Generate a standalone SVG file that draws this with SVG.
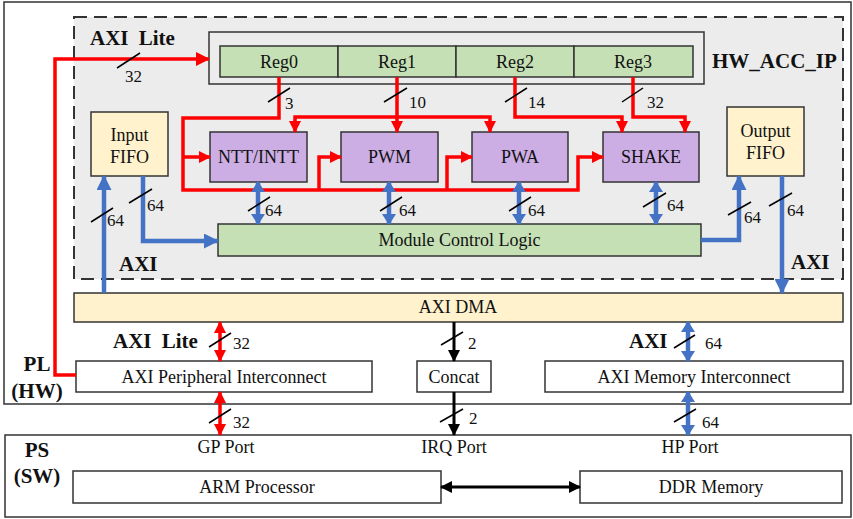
<svg xmlns="http://www.w3.org/2000/svg" width="853" height="519" viewBox="0 0 853 519">
<style>
text{font-family:"Liberation Serif","Times New Roman",serif;font-size:18px;fill:#111}
.c{text-anchor:middle}
.bd{font-weight:bold;font-size:21px}
.n{font-size:17px}
.box{stroke:#333;stroke-width:1.5}
.reg{fill:#c5e0b4}
.mod{fill:#cdaee4}
.fifo{fill:#fff2cc}
.wht{fill:#fff}
.r{fill:none;stroke:#ff0000;stroke-width:3.5}
.b{fill:none;stroke:#4472c4;stroke-width:4.5}
.k{fill:none;stroke:#000;stroke-width:3}
.s{stroke:#000;stroke-width:1.5}
</style>
<defs>
<marker id="mr" markerUnits="userSpaceOnUse" viewBox="0 0 12 12" markerWidth="12" markerHeight="12" refX="11" refY="6" orient="auto-start-reverse"><path d="M0,0 L12,6 L0,12 z" fill="#ff0000"/></marker>
<marker id="mrl" markerUnits="userSpaceOnUse" viewBox="0 0 14 14" markerWidth="14" markerHeight="14" refX="13" refY="7" orient="auto-start-reverse"><path d="M0,0 L14,7 L0,14 z" fill="#ff0000"/></marker>
<marker id="mb" markerUnits="userSpaceOnUse" viewBox="0 0 15 15" markerWidth="15" markerHeight="15" refX="14" refY="7.5" orient="auto-start-reverse"><path d="M0,0 L15,7.5 L0,15 z" fill="#4472c4"/></marker>
<marker id="mbd" markerUnits="userSpaceOnUse" viewBox="0 0 11 14" markerWidth="11" markerHeight="14" refX="10" refY="7" orient="auto-start-reverse"><path d="M0,0 L11,7 L0,14 z" fill="#4472c4"/></marker>
<marker id="mk" markerUnits="userSpaceOnUse" viewBox="0 0 12 12" markerWidth="12" markerHeight="12" refX="11" refY="6" orient="auto-start-reverse"><path d="M0,0 L12,6 L0,12 z" fill="#000"/></marker>
</defs>
<rect width="853" height="519" fill="#fff"/>
<!-- PL and PS regions -->
<g id="pl-region"><rect x="4" y="2" width="847" height="402" fill="#fff" stroke="#333" stroke-width="1.5"/>
<text class="bd c" x="37" y="371">PL</text><text class="bd c" x="37" y="398">(HW)</text></g>
<g id="ps-region"><rect x="5" y="435" width="846" height="82" fill="#fff" stroke="#333" stroke-width="1.5"/>
<text class="bd c" x="37" y="457">PS</text><text class="bd c" x="37" y="483">(SW)</text></g>
<g id="hw-acc-ip"><rect x="74" y="17" width="769" height="262" fill="#ececec" stroke="#333" stroke-width="2" stroke-dasharray="13,7"/>
<text class="bd" x="90" y="45" word-spacing="5">AXI Lite</text>
<text class="bd" x="712" y="68">HW_ACC_IP</text>
<text class="bd" x="119" y="271">AXI</text>
<text class="bd" x="791" y="269">AXI</text></g>
<g id="registers"><rect class="box" x="209" y="32" width="495" height="52" fill="#ececec"/>
<g id="reg0"><rect class="box reg" x="220" y="46" width="118" height="31"/><text class="c" x="279" y="68">Reg0</text></g>
<g id="reg1"><rect class="box reg" x="338" y="46" width="118" height="31"/><text class="c" x="397" y="68">Reg1</text></g>
<g id="reg2"><rect class="box reg" x="456" y="46" width="118" height="31"/><text class="c" x="515" y="68">Reg2</text></g>
<g id="reg3"><rect class="box reg" x="574" y="46" width="119" height="31"/><text class="c" x="633" y="68">Reg3</text></g></g>
<g id="input-fifo"><rect class="box fifo" x="91" y="112" width="77" height="64"/><text class="c" x="129.5" y="141">Input</text><text class="c" x="129.5" y="163">FIFO</text></g>
<g id="output-fifo"><rect class="box fifo" x="727" y="107" width="77" height="69"/><text class="c" x="765.5" y="137">Output</text><text class="c" x="765.5" y="159">FIFO</text></g>
<g id="ntt"><rect class="box mod" x="210" y="132" width="97" height="50"/><text class="c" x="258.5" y="163">NTT/INTT</text></g>
<g id="pwm"><rect class="box mod" x="341" y="132" width="97" height="50"/><text class="c" x="389.5" y="163">PWM</text></g>
<g id="pwa"><rect class="box mod" x="472" y="132" width="96" height="50"/><text class="c" x="520" y="163">PWA</text></g>
<g id="shake"><rect class="box mod" x="603" y="132" width="96" height="50"/><text class="c" x="651" y="163">SHAKE</text></g>
<g id="mcl"><rect class="box reg" x="218" y="224" width="483" height="32"/><text class="c" x="459.5" y="246">Module Control Logic</text></g>
<g id="axi-dma"><rect class="box fifo" x="74" y="293" width="769" height="29"/><text class="c" x="458" y="313">AXI DMA</text></g>
<g id="axi-periph"><rect class="box wht" x="76" y="361" width="296" height="31"/><text class="c" x="224" y="383">AXI Peripheral Interconnect</text></g>
<g id="concat"><rect class="box wht" x="417" y="361" width="74" height="31"/><text class="c" x="454" y="383">Concat</text></g>
<g id="axi-mem"><rect class="box wht" x="545" y="361" width="298" height="31"/><text class="c" x="694" y="383">AXI Memory Interconnect</text></g>
<g id="ports"><text class="c" x="226" y="453">GP Port</text><text class="c" x="454" y="453">IRQ Port</text><text class="c" x="690" y="453">HP Port</text></g>
<g id="arm"><rect class="box wht" x="73" y="471" width="368" height="32"/><text class="c" x="257" y="493">ARM Processor</text></g>
<g id="ddr"><rect class="box wht" x="580" y="471" width="262" height="32"/><text class="c" x="711" y="493">DDR Memory</text></g>
<g id="labels-lower"><text class="bd" x="113" y="348" word-spacing="5">AXI Lite</text><text class="bd" x="629" y="348">AXI</text></g>
<g id="connectors">
<path class="r" d="M76,375 H55 V59 H209" marker-end="url(#mrl)"/>
<path class="r" d="M279,77 V118 H183 V190 H578 V157 H603" marker-end="url(#mr)"/>
<path class="r" d="M183,157 H210" marker-end="url(#mr)"/>
<path class="r" d="M319,190 V157 H341" marker-end="url(#mr)"/>
<path class="r" d="M447,190 V157 H472" marker-end="url(#mr)"/>
<path class="r" d="M397,77 V132" marker-end="url(#mr)"/>
<path class="r" d="M295,132 V117 H490 V132" marker-start="url(#mr)" marker-end="url(#mr)"/>
<path class="r" d="M515,77 V117 H622 V132" marker-end="url(#mr)"/>
<path class="r" d="M633,77 V117 H685 V132" marker-end="url(#mr)"/>
<path class="r" d="M220,322 V361" marker-start="url(#mr)" marker-end="url(#mr)"/>
<path class="r" d="M220,392 V435" marker-start="url(#mr)" marker-end="url(#mr)"/>
<path class="b" d="M104,293 V176" marker-end="url(#mb)"/>
<path class="b" d="M143,176 V241 H218" marker-end="url(#mb)"/>
<path class="b" d="M258,182 V224" marker-start="url(#mbd)" marker-end="url(#mbd)"/>
<path class="b" d="M389,182 V224" marker-start="url(#mbd)" marker-end="url(#mbd)"/>
<path class="b" d="M519,182 V224" marker-start="url(#mbd)" marker-end="url(#mbd)"/>
<path class="b" d="M656,182 V224" marker-start="url(#mbd)" marker-end="url(#mbd)"/>
<path class="b" d="M701,240 H739 V176" marker-end="url(#mb)"/>
<path class="b" d="M782,176 V293" marker-end="url(#mb)"/>
<path class="b" d="M688,322 V361" marker-start="url(#mbd)" marker-end="url(#mbd)"/>
<path class="b" d="M688,392 V435" marker-start="url(#mbd)" marker-end="url(#mbd)"/>
<path class="k" d="M454,322 V361" marker-end="url(#mk)"/>
<path class="k" d="M454,392 V435" marker-end="url(#mk)"/>
<path class="k" d="M441,487 H580" marker-start="url(#mk)" marker-end="url(#mk)"/>
<g id="bus-widths">
<line class="s" x1="117" y1="68" x2="140" y2="53"/><text class="n" x="125" y="82">32</text>
<line class="s" x1="268" y1="102" x2="290" y2="88"/><text class="n" x="285" y="109">3</text>
<line class="s" x1="384" y1="102" x2="407" y2="88"/><text class="n" x="409" y="108">10</text>
<line class="s" x1="505" y1="102" x2="527" y2="88"/><text class="n" x="528" y="108">14</text>
<line class="s" x1="622" y1="102" x2="643" y2="88"/><text class="n" x="647" y="108">32</text>
<line class="s" x1="91" y1="222" x2="113" y2="208"/><text class="n" x="107" y="226">64</text>
<line class="s" x1="129" y1="203" x2="152" y2="189"/><text class="n" x="147" y="211">64</text>
<line class="s" x1="248" y1="211" x2="270" y2="197"/><text class="n" x="265" y="216">64</text>
<line class="s" x1="380" y1="211" x2="402" y2="197"/><text class="n" x="399" y="216">64</text>
<line class="s" x1="509" y1="211" x2="531" y2="197"/><text class="n" x="528" y="216">64</text>
<line class="s" x1="643" y1="207" x2="666" y2="193"/><text class="n" x="667" y="211">64</text>
<line class="s" x1="728" y1="215" x2="751" y2="202"/><text class="n" x="744" y="223">64</text>
<line class="s" x1="769" y1="206" x2="792" y2="193"/><text class="n" x="787" y="216">64</text>
<line class="s" x1="209" y1="347" x2="231" y2="333"/><text class="n" x="233" y="349">32</text>
<line class="s" x1="441" y1="345" x2="463" y2="332"/><text class="n" x="468" y="349">2</text>
<line class="s" x1="674" y1="348" x2="695" y2="335"/><text class="n" x="705" y="349">64</text>
<line class="s" x1="209" y1="423" x2="231" y2="409"/><text class="n" x="233" y="428">32</text>
<line class="s" x1="440" y1="422" x2="463" y2="409"/><text class="n" x="469" y="424">2</text>
<line class="s" x1="674" y1="422" x2="696" y2="409"/><text class="n" x="702" y="428">64</text>
</g>
</g>
</svg>
